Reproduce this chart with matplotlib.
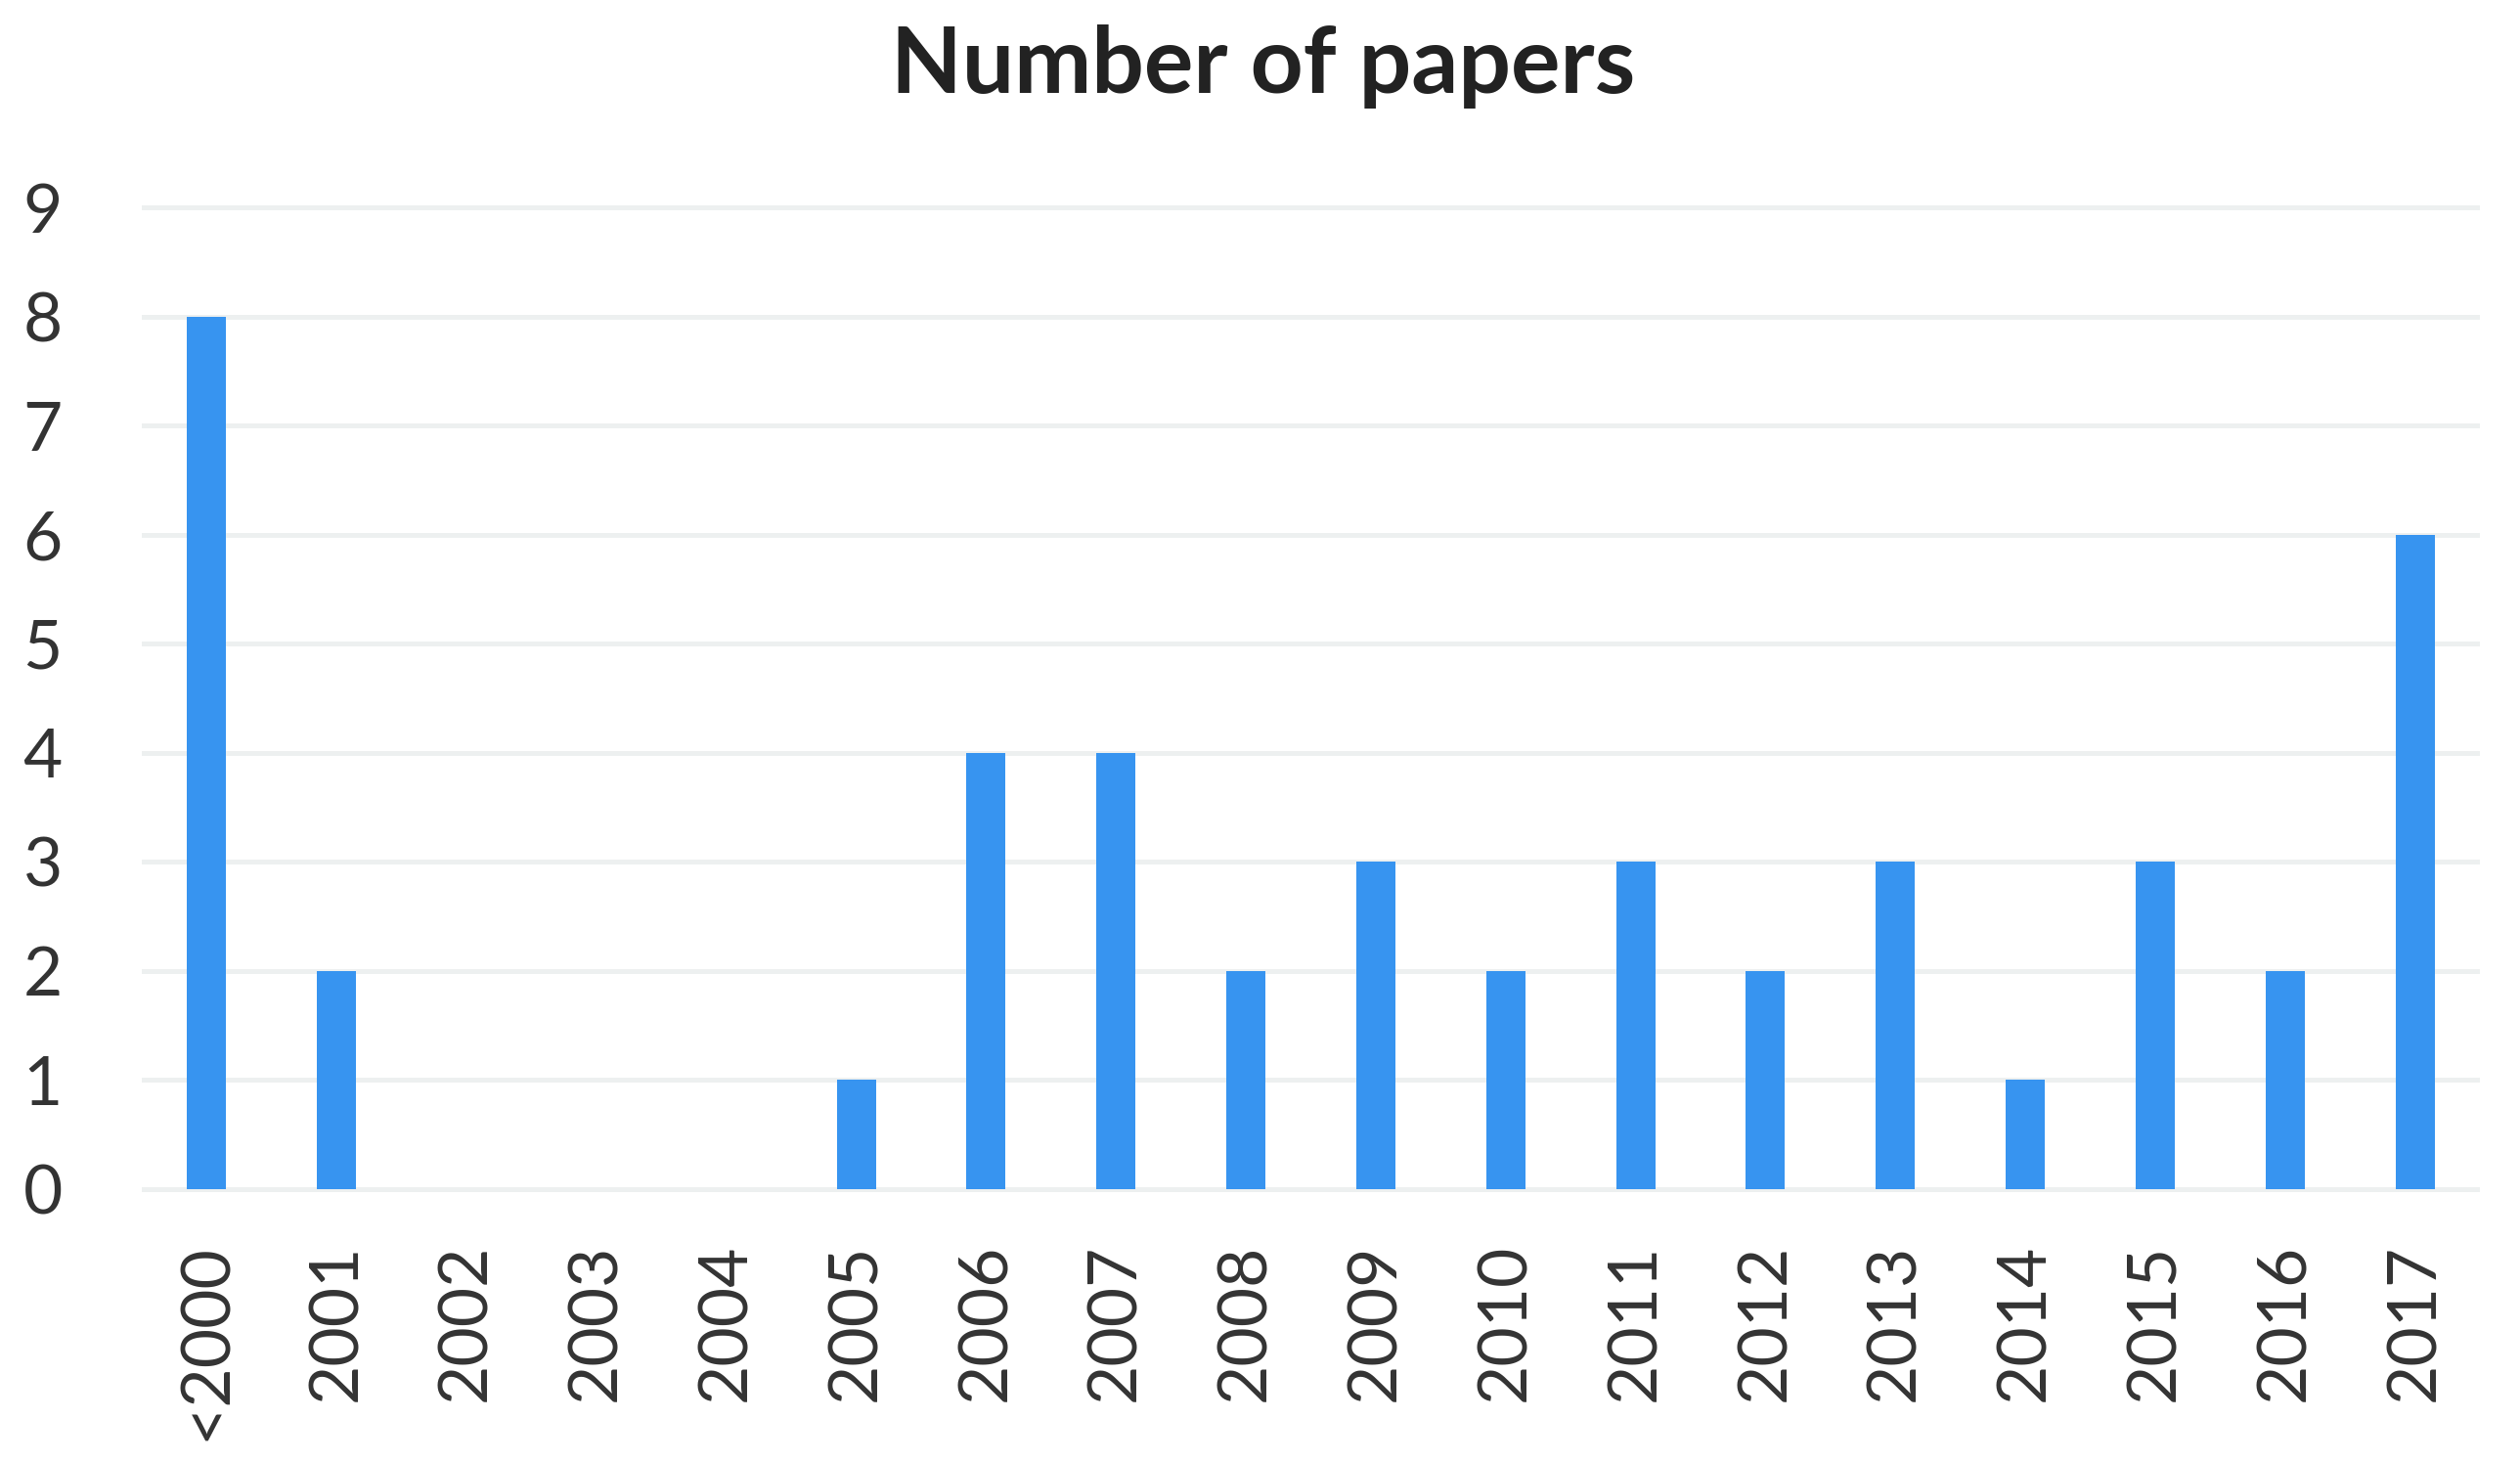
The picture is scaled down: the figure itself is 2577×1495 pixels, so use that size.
import matplotlib
import matplotlib.pyplot as plt

matplotlib.use('Agg')

# Dane
years = ['<2000', '2001', '2002', '2003', '2004', '2005', '2006', '2007', '2008',
         '2009', '2010', '2011', '2012', '2013', '2014', '2015', '2016', '2017']
papers = [8, 2, 0, 0, 0, 1, 4, 4, 2, 3, 2, 3, 2, 3, 1, 3, 2, 6]

plt.rcParams['font.family'] = ['Lato', 'DejaVu Sans']

W, H = 2577, 1495
fig = plt.figure(figsize=(W / 100, H / 100), dpi=100)

# pozycja osi w pikselach
left, right = 145, 2536
y0_px, y9_px = 1216, 212
unit = (y0_px - y9_px) / 9
ymin, ymax = -0.05, 9.05
bottom_px = y0_px + 0.05 * unit
top_px = y9_px - 0.05 * unit
ax = fig.add_axes([left / W, 1 - bottom_px / H, (right - left) / W, (bottom_px - top_px) / H])

x = range(len(years))
ax.bar(x, papers, width=0.3, color='#3794f0', zorder=3)

ax.set_xlim(-0.5, len(years) - 0.5)
ax.set_ylim(ymin, ymax)
ax.set_yticks(range(10))
ax.set_xticks(list(x))
ax.set_xticklabels(years, rotation=90)
ax.tick_params(axis='y', length=0, pad=73, labelsize=50, labelcolor='#333333')
ax.tick_params(axis='x', length=0, pad=36, labelsize=50, labelcolor='#333333')
for lbl in ax.get_yticklabels():
    lbl.set_horizontalalignment('center')

ax.grid(axis='y', color='#edf0f0', linewidth=3.6, zorder=0)
for s in ax.spines.values():
    s.set_visible(False)

fig.text(1292 / W, 1 - 95 / H, 'Number of papers', ha='center', va='baseline',
         fontsize=68, fontweight='bold', color='#222222')

fig.savefig('out.png', dpi=100, facecolor='white')
